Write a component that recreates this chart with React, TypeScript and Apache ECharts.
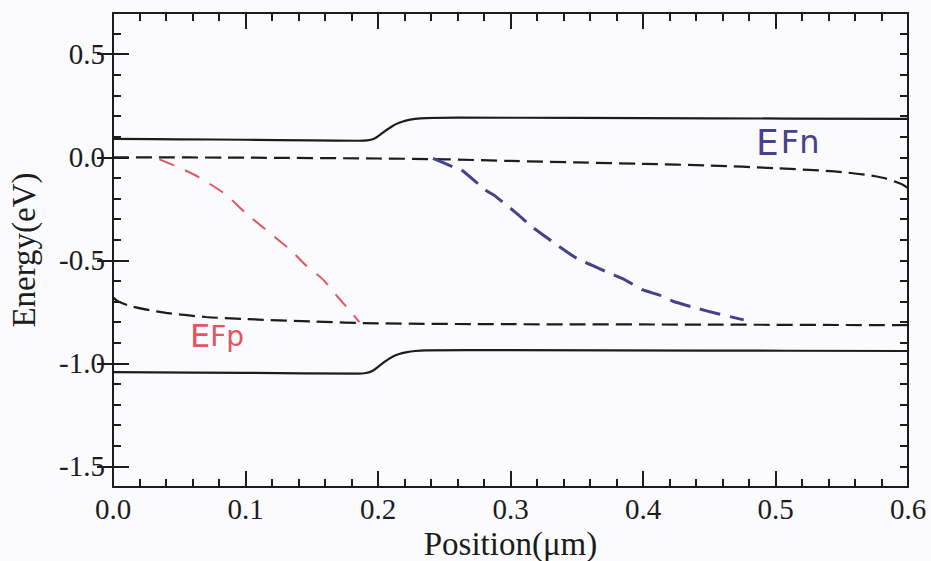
import React, { useEffect, useRef } from "react";
import * as echarts from "echarts";

// Position (µm) vs Energy (eV)
const conductionBand: [number, number][] = [
  [0, 0.089], [0.05, 0.087], [0.1, 0.085], [0.15, 0.082], [0.185, 0.08], [0.192, 0.082],
  [0.197, 0.09], [0.201, 0.106], [0.206, 0.13], [0.211, 0.152], [0.216, 0.167],
  [0.221, 0.178], [0.228, 0.186], [0.236, 0.19], [0.26, 0.192],
  [0.35, 0.191], [0.45, 0.189], [0.6, 0.186],
];
const valenceBand: [number, number][] = [
  [0, -1.043], [0.1, -1.046], [0.185, -1.05], [0.191, -1.047], [0.196, -1.036],
  [0.201, -1.012], [0.206, -0.988], [0.211, -0.968], [0.216, -0.955], [0.221, -0.947],
  [0.228, -0.94], [0.236, -0.937], [0.3, -0.936], [0.45, -0.938], [0.6, -0.94],
];
const quasiFermiN: [number, number][] = [
  [0, 0], [0.1, -0.002], [0.2, -0.006], [0.25, -0.01], [0.3, -0.018], [0.35, -0.025],
  [0.4, -0.032], [0.45, -0.04], [0.5, -0.053], [0.55, -0.072], [0.58, -0.098],
  [0.595, -0.13], [0.6, -0.15],
];
const quasiFermiP: [number, number][] = [
  [0, -0.68], [0.004, -0.7], [0.015, -0.725], [0.04, -0.755], [0.07, -0.775],
  [0.1, -0.785], [0.15, -0.797], [0.2, -0.806], [0.3, -0.81], [0.45, -0.812], [0.6, -0.815],
];
const handDrawnP: [number, number][] = [
  [0.035, -0.01], [0.05, -0.05], [0.064, -0.094], [0.085, -0.18], [0.1, -0.27],
  [0.118, -0.366], [0.134, -0.45], [0.146, -0.527], [0.158, -0.59], [0.1705, -0.684],
  [0.179, -0.746], [0.186, -0.8],
];
const handDrawnN: [number, number][] = [
  [0.2415, -0.005], [0.258, -0.05], [0.263, -0.061], [0.282, -0.163], [0.288, -0.186],
  [0.3046, -0.272], [0.316, -0.336], [0.337, -0.434], [0.35, -0.49], [0.375, -0.563],
  [0.385, -0.59], [0.4, -0.644], [0.412, -0.668], [0.423, -0.7], [0.441, -0.733],
  [0.455, -0.757], [0.476, -0.789],
];
const yMajorTicks = [-1.5, -1.0, -0.5, 0.0, 0.5];
const xLabel = "Position(μm)";
const yLabel = "Energy(eV)";

const FONT = "'Liberation Serif', 'DejaVu Serif', serif";
const INK = "#1c1c1c";
const RED = "#e05560";
const PURPLE = "#47408c";

export default function App() {
  const ref = useRef<HTMLDivElement>(null);
  useEffect(() => {
    document.body.style.margin = "0";
    const chart = echarts.init(ref.current!, null, { renderer: "svg" });
    const line = { color: INK, width: 2 };
    const xBase = (pos: "bottom" | "top") => ({
      type: "value",
      min: 0,
      max: 0.6,
      interval: 0.1,
      position: pos,
      axisLine: { show: true, onZero: false, lineStyle: line },
      axisTick: { show: true, inside: true, length: 16, lineStyle: line },
      minorTick: { show: true, splitNumber: 5, length: 8, lineStyle: line },
      splitLine: { show: false },
      minorSplitLine: { show: false },
    });
    const yMinor = (pos: "left" | "right") => ({
      type: "value",
      min: -1.6,
      max: 0.7,
      interval: 0.1,
      position: pos,
      axisLine: { show: true, onZero: false, lineStyle: line },
      axisTick: { show: true, inside: true, length: 8, lineStyle: line },
      axisLabel: { show: false },
      splitLine: { show: false },
    });
    const yMajor = (pos: "left" | "right", labels: boolean) => ({
      type: "value",
      min: -1.6,
      max: 0.7,
      position: pos,
      axisLine: { show: false },
      axisTick: { show: true, inside: true, length: 16, lineStyle: line, customValues: yMajorTicks },
      axisLabel: {
        show: labels,
        customValues: yMajorTicks,
        formatter: (v: number) => v.toFixed(1),
        fontFamily: FONT,
        fontSize: 29,
        color: INK,
        margin: 8,
      },
      splitLine: { show: false },
    });
    const curve = (data: [number, number][], color: string, width: number, dash: any, smooth = 0.3) => ({
      type: "line",
      data,
      xAxisIndex: 0,
      yAxisIndex: 0,
      showSymbol: false,
      smooth,
      lineStyle: { color, width, type: dash },
      silent: true,
    });
    chart.setOption({
      animation: false,
      backgroundColor: "#fbfbfd",
      grid: { left: 113, right: 23, top: 13, bottom: 74, outerBoundsMode: "none", containLabel: false },
      xAxis: [
        {
          ...xBase("bottom"),
          axisLabel: {
            formatter: (v: number) => v.toFixed(1),
            fontFamily: FONT,
            fontSize: 29,
            color: INK,
            margin: 7,
          },
          name: xLabel,
          nameLocation: "middle",
          nameGap: 12,
          nameTextStyle: { fontFamily: FONT, fontSize: 33, color: INK },
        },
        { ...xBase("top"), axisLabel: { show: false } },
      ],
      yAxis: [
        {
          ...yMinor("left"),
          name: yLabel,
          nameLocation: "middle",
          nameGap: 73,
          nameTextStyle: { fontFamily: FONT, fontSize: 33, color: INK },
        },
        yMajor("left", true),
        yMinor("right"),
        yMajor("right", false),
      ],
      series: [
        curve(conductionBand, INK, 2.2, "solid", 0.35),
        curve(valenceBand, INK, 2.2, "solid", 0.35),
        curve(quasiFermiN, INK, 2.2, [16, 7]),
        curve(quasiFermiP, INK, 2.2, [16, 7]),
        curve(handDrawnP, RED, 2, [16, 12], 0.2),
        curve(handDrawnN, PURPLE, 3, [21, 10], 0.2),
      ],
      graphic: [
        {
          type: "text",
          x: 756,
          y: 124,
          style: {
            text: "{e|E}{f|Fn}",
            rich: {
              e: { fontFamily: "'DejaVu Sans', sans-serif", fontSize: 36, fill: PURPLE },
              f: { fontFamily: "'DejaVu Sans', sans-serif", fontSize: 32, fill: PURPLE, padding: [0, 0, 0, 2] },
            },
          },
        },
        {
          type: "text",
          x: 190,
          y: 320,
          style: {
            text: "{e|E}{f|Fp}",
            rich: {
              e: { fontFamily: "'DejaVu Sans', sans-serif", fontSize: 32, fill: RED },
              f: { fontFamily: "'DejaVu Sans', sans-serif", fontSize: 28, fill: RED },
            },
          },
        },
      ],
    });
    return () => chart.dispose();
  }, []);
  return (
    <div
      ref={ref}
      style={{ position: "absolute", left: 0, top: 0, width: 931, height: 561, background: "#fbfbfd" }}
    />
  );
}
